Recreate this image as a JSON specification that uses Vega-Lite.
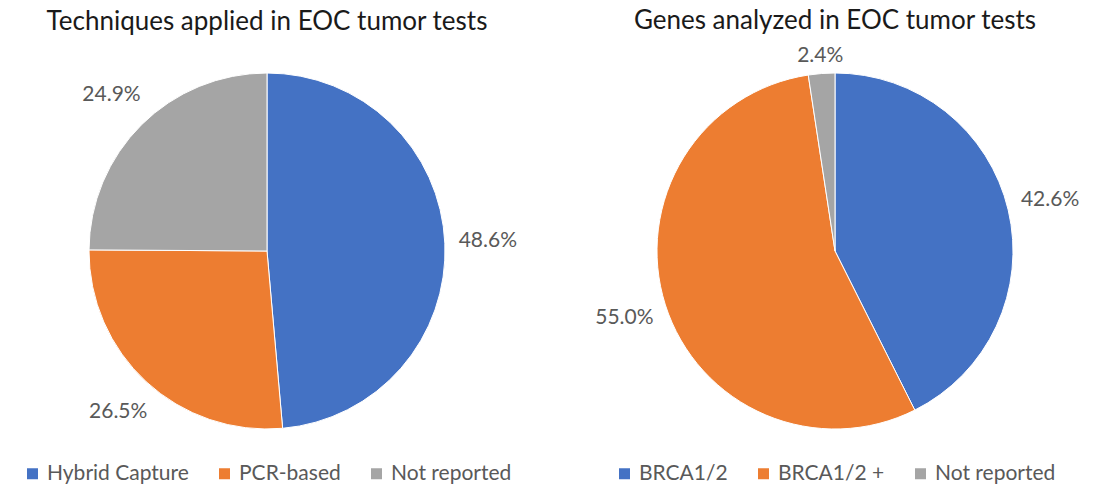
{
  "$schema": "https://vega.github.io/schema/vega-lite/v6.json",
  "background": "white",
  "padding": {"top": 7, "left": 0, "right": 0, "bottom": 0},
  "spacing": 34,
  "config": {
    "view": {"stroke": null},
    "font": "Lato",
    "title": {"fontSize": 26, "fontWeight": "normal", "color": "#1a1a1a", "font": "Lato"},
    "legend": {"orient": "bottom", "direction": "horizontal", "title": null, "labelFontSize": 21, "labelColor": "#595959", "symbolType": "square", "symbolSize": 121, "columnPadding": 25, "offset": 7, "labelFont": "Lato", "symbolStrokeWidth": 0, "labelOffset": 4, "layout": {"bottom": {"anchor": "middle"}}}
  },
  "datasets": {
    "tech": [
      {"category": "Hybrid Capture", "value": 48.6, "order": 1, "label": "48.6%"},
      {"category": "PCR-based", "value": 26.5, "order": 2, "label": "26.5%"},
      {"category": "Not reported", "value": 24.9, "order": 3, "label": "24.9%"}
    ],
    "genes": [
      {"category": "BRCA1/2", "value": 42.6, "order": 1, "label": "42.6%"},
      {"category": "BRCA1/2 +", "value": 55.0, "order": 2, "label": "55.0%"},
      {"category": "Not reported", "value": 2.4, "order": 3, "label": "2.4%"}
    ]
  },
  "hconcat": [
    {
      "title": {"text": "Techniques applied in EOC tumor tests", "offset": 11},
      "width": 534,
      "height": 410,
      "data": {"name": "tech"},
      "encoding": {
        "theta": {"field": "value", "type": "quantitative", "stack": true},
        "order": {"field": "order", "type": "quantitative"}
      },
      "layer": [
        {
          "mark": {"type": "arc", "outerRadius": 178, "stroke": "white", "strokeWidth": 1},
          "encoding": {
            "color": {"field": "category", "type": "nominal",
              "scale": {"domain": ["Hybrid Capture", "PCR-based", "Not reported"], "range": ["#4472C4", "#ED7D31", "#A5A5A5"]},
              "sort": ["Hybrid Capture", "PCR-based", "Not reported"]}
          }
        },
        {
          "mark": {"type": "text", "radius": 193, "fontSize": 21, "color": "#595959",
            "dx": {"expr": "28*min(1, 1.4*abs(sin(PI*(datum.value_start+datum.value_end)/100))) * sin(PI*(datum.value_start+datum.value_end)/100)"},
            "dy": {"expr": "-28*min(1, 1.4*abs(sin(PI*(datum.value_start+datum.value_end)/100))) * cos(PI*(datum.value_start+datum.value_end)/100)"}},
          "encoding": {"text": {"field": "label", "type": "nominal"}}
        }
      ]
    },
    {
      "title": {"text": "Genes analyzed in EOC tumor tests", "offset": 11},
      "width": 534,
      "height": 410,
      "data": {"name": "genes"},
      "encoding": {
        "theta": {"field": "value", "type": "quantitative", "stack": true},
        "order": {"field": "order", "type": "quantitative"}
      },
      "layer": [
        {
          "mark": {"type": "arc", "outerRadius": 178, "stroke": "white", "strokeWidth": 1},
          "encoding": {
            "color": {"field": "category", "type": "nominal",
              "scale": {"domain": ["BRCA1/2", "BRCA1/2 +", "Not reported"], "range": ["#4472C4", "#ED7D31", "#A5A5A5"]},
              "sort": ["BRCA1/2", "BRCA1/2 +", "Not reported"]}
          }
        },
        {
          "mark": {"type": "text", "radius": 193, "fontSize": 21, "color": "#595959",
            "dx": {"expr": "28*min(1, 1.4*abs(sin(PI*(datum.value_start+datum.value_end)/100))) * sin(PI*(datum.value_start+datum.value_end)/100)"},
            "dy": {"expr": "-28*min(1, 1.4*abs(sin(PI*(datum.value_start+datum.value_end)/100))) * cos(PI*(datum.value_start+datum.value_end)/100)"}},
          "encoding": {"text": {"field": "label", "type": "nominal"}}
        }
      ]
    }
  ],
  "resolve": {"scale": {"color": "independent", "theta": "independent"}, "legend": {"color": "independent"}}
}
